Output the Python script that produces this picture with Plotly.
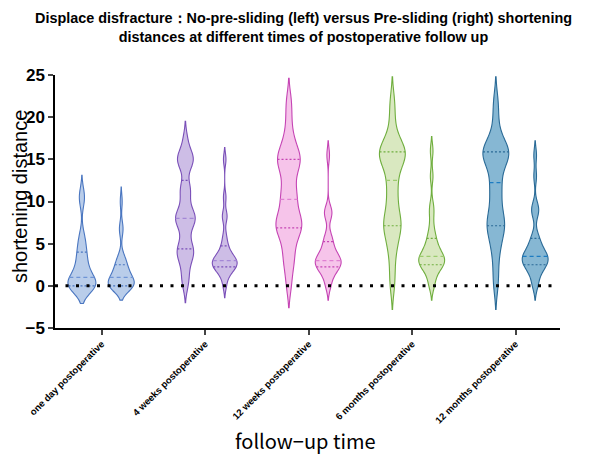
import numpy as np
import plotly.graph_objects as go

categories = ["one day postoperative", "4 weeks postoperative", "12 weeks postoperative",
              "6 months postoperative", "12 months postoperative"]

# shortening distance samples (mm)
one_day_no_pre = [0, 0, 0, 0, 0, 0, 0, 0, 0, 0, 0, 0.5, 1, 1, 1, 1.5, 2, 2, 2.5, 3, 3.5, 4, 4,
                  5, 5.5, 6, 10, 10.5, 11]
one_day_pre = [0, 0, 0, 0, 0, 0, 0, 0, 0, 0.5, 0.5, 1, 1, 1, 1.5, 1.5, 2, 2, 2.5, 3, 3, 3.5,
               6.5, 7, 10]
weeks4_no_pre = [0, 1, 2, 3, 3.5, 4, 4, 4.5, 5, 6, 7, 7.5, 8, 8, 8, 8.5, 9, 10, 11, 11.5, 12,
                 14, 14.5, 15, 15, 15.5, 16, 17.5]
weeks4_pre = [0, 1, 1.5, 2, 2, 2, 2.5, 2.5, 2.5, 3, 3, 3, 3, 3.5, 3.5, 4, 4.5, 5, 6, 8, 8.5,
              10.5, 15]
weeks12_no_pre = [0, 2, 3, 4, 5, 6, 6.5, 7, 7, 7.5, 8, 8, 9, 10, 10.5, 11, 12, 13, 14, 14.5,
                  15, 15, 15.5, 16, 17, 18, 20, 22]
weeks12_pre = [0, 0.5, 1.5, 2, 2, 2, 2.5, 2.5, 3, 3, 3, 3, 3.5, 3.5, 4, 4.5, 5, 5.5, 6, 8.5,
               8.5, 9, 15.5]
months6_no_pre = [0, 2, 4, 5, 6, 7, 7, 7.5, 8, 9, 10, 11, 12, 13, 14, 15, 15, 15.5, 15.5, 16,
                  16, 16.5, 17, 18, 20, 22]
months6_pre = [0, 0.5, 1.5, 2, 2, 2.5, 2.5, 3, 3, 3, 3, 3.5, 3.5, 4, 4, 4.5, 5, 5.5, 6, 7,
               8.5, 9.5, 13, 16]
months12_no_pre = [0, 2, 4, 5, 6, 7, 7, 7.5, 8, 9, 10, 11, 12, 12.5, 14, 15, 15, 15.5, 15.5,
                   16, 16, 16.5, 17, 18, 20, 22]
months12_pre = [0, 0.5, 1.5, 2, 2, 2.5, 2.5, 3, 3, 3, 3.5, 3.5, 3.5, 4, 4, 4.5, 5, 5.5, 6,
                8.5, 9, 9.5, 13, 15.5]

no_pre_sliding = [one_day_no_pre, weeks4_no_pre, weeks12_no_pre, months6_no_pre, months12_no_pre]
pre_sliding = [one_day_pre, weeks4_pre, weeks12_pre, months6_pre, months12_pre]

# styles
line_colors = ["#4a76c0", "#7a4fb8", "#c544b4", "#6fae3e", "#2a6a96"]
fill_colors = ["#b9cdea", "#cdbde6", "#f6c4ea", "#d9e8c0", "#86b7d3"]
median_colors = ["#6f95d6", "#a487d6", "#e07fd2", "#9ccc6e", "#1c7cc2"]
bw_no_pre = [1.05, 1.0, 1.3, 1.4, 1.4]
bw_pre = [0.85, 0.7, 0.85, 0.85, 0.85]
w_no_pre = [0.27, 0.19, 0.25, 0.25, 0.25]
w_pre = [0.25, 0.24, 0.25, 0.25, 0.25]
offset = 0.19

def kde(samples, bw, y):
    s = np.asarray(samples, float)
    y = np.atleast_1d(np.asarray(y, float))
    return np.exp(-0.5 * ((y[:, None] - s[None, :]) / bw) ** 2).sum(1) / (len(s) * bw * np.sqrt(2 * np.pi))

fig = go.Figure()

def add_violin(samples, pos, bw, width, lc, fc, mc):
    fig.add_trace(go.Violin(
        y=samples, x0=pos, width=width, bandwidth=bw, spanmode="soft",
        line=dict(color=lc, width=1.1), fillcolor=fc, opacity=1,
        points=False, box=dict(visible=False), meanline=dict(visible=False),
        scalemode="width", hoverinfo="skip", showlegend=False))
    s = np.asarray(samples, float)
    grid = np.linspace(s.min() - 2 * bw, s.max() + 2 * bw, 600)
    dmax = kde(s, bw, grid).max()
    q1, med, q3 = np.percentile(s, [25, 50, 75])
    for q, dash, col in [(q1, "2px,2px", lc), (med, "4px,3px", mc), (q3, "2px,2px", lc)]:
        hw = kde(s, bw, q)[0] / dmax * width / 2
        fig.add_trace(go.Scatter(x=[pos - hw, pos + hw], y=[q, q], mode="lines",
                                 line=dict(color=col, width=1.2, dash=dash),
                                 hoverinfo="skip", showlegend=False))

for i in range(len(categories)):
    add_violin(no_pre_sliding[i], i - offset, bw_no_pre[i], w_no_pre[i],
               line_colors[i], fill_colors[i], median_colors[i])
    add_violin(pre_sliding[i], i + offset, bw_pre[i], w_pre[i],
               line_colors[i], fill_colors[i], median_colors[i])

fig.add_shape(type="line", xref="x", yref="y", x0=-0.45, x1=4.38, y0=0, y1=0,
              line=dict(color="black", width=3, dash="3px,7.5px"))

fig.update_layout(
    width=591, height=456,
    margin=dict(l=47, r=39, t=67, b=136, autoexpand=False),
    paper_bgcolor="white", plot_bgcolor="white",
    font=dict(family="Liberation Sans, Arial, sans-serif", color="black"),
    title=dict(text="Displace disfracture：No-pre-sliding (left) versus Pre-sliding (right) shortening<br>distances at different times of postoperative follow up",
               x=0.5, xanchor="center", y=0.967, yanchor="top",
               font=dict(size=14.4, weight="bold", family="Liberation Sans, Arial, sans-serif")),
    xaxis=dict(range=[-0.45, 4.43], tickmode="array", tickvals=list(range(len(categories))),
               ticktext=categories, tickangle=-45, ticks="outside", ticklen=5, tickwidth=1.5,
               showline=True, linecolor="black", linewidth=1.5, showgrid=False, zeroline=False,
               automargin=False, tickfont=dict(size=9.5, weight="bold")),
    yaxis=dict(range=[-5, 25], tickmode="linear", tick0=-5, dtick=5, ticks="outside",
               ticklen=5, tickwidth=1.5, showline=True, linecolor="black", linewidth=1.5,
               showgrid=False, zeroline=False, automargin=False,
               tickfont=dict(size=17, weight="bold")),
    annotations=[
        dict(text="shortening distance", xref="paper", yref="paper", x=-0.068, y=0.52,
             textangle=-90, showarrow=False, xanchor="center", yanchor="middle",
             font=dict(size=20)),
        dict(text="follow−up time", xref="paper", yref="paper", x=0.497, y=-0.443,
             showarrow=False, xanchor="center", yanchor="middle",
             font=dict(size=20, family="Noto Sans CJK JP")),
    ],
)

fig.write_html("out.html")
